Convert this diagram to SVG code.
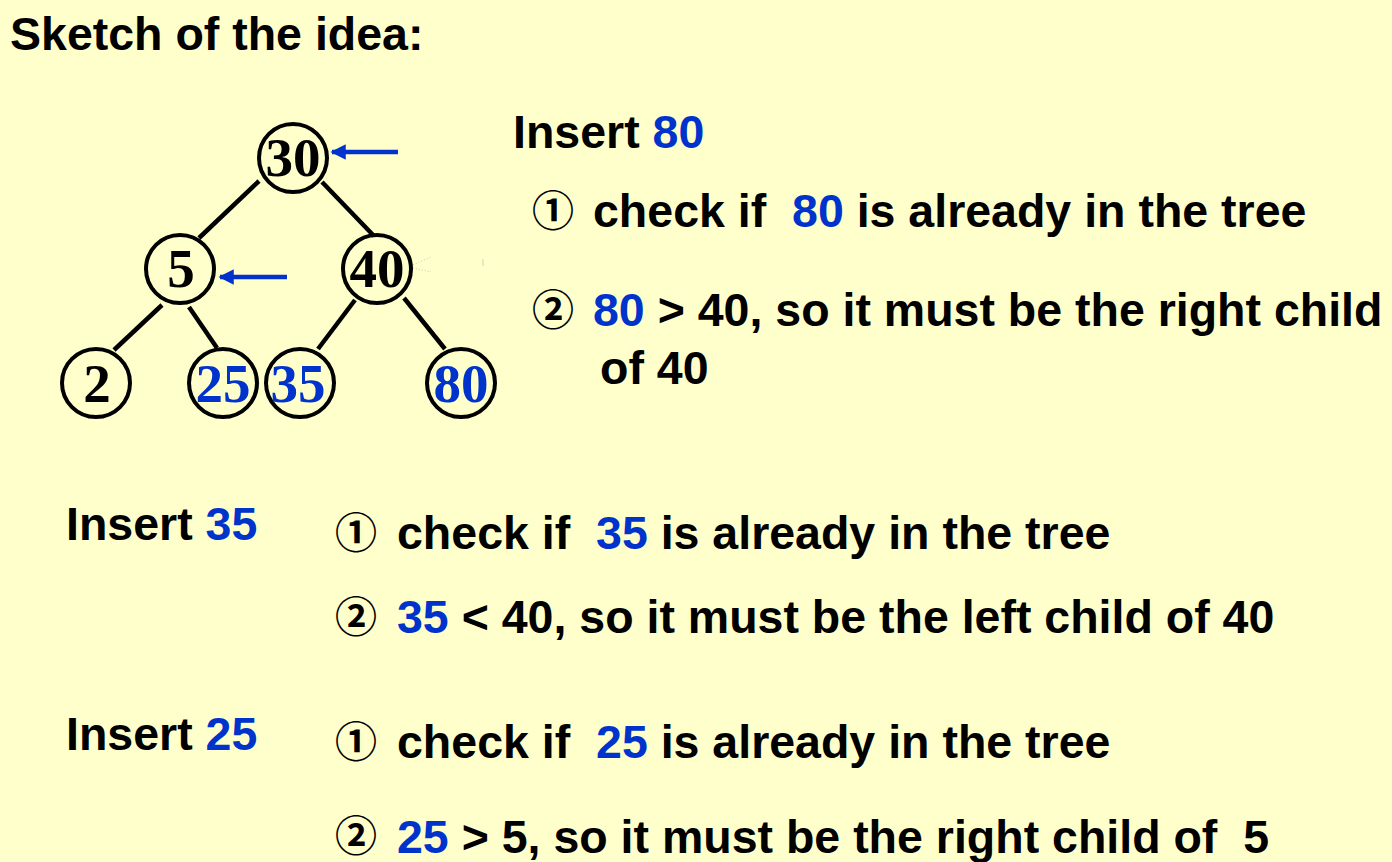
<svg xmlns="http://www.w3.org/2000/svg" width="1392" height="862" viewBox="0 0 1392 862">
<style>
.t{font-family:"Liberation Sans",Arial,sans-serif;font-weight:bold;font-size:46.5px;fill:#000;white-space:pre}
.b{fill:#0033CC}
.c{font-family:"Noto Sans CJK JP","Noto Sans CJK SC","DejaVu Sans",sans-serif;font-weight:bold;font-size:42px;fill:#000}
.n{font-family:"Liberation Serif","Times New Roman",serif;font-weight:bold;font-size:55px;text-anchor:middle;fill:#000}
.nb{fill:#0033CC}
.node circle{fill:none;stroke:#000;stroke-width:4}
.edge{stroke:#000;stroke-width:4.5;fill:none}
.arr{stroke:#0033CC;stroke-width:4.5;fill:none}
</style>
<defs>
<marker id="ah" viewBox="0 0 10 10" refX="9" refY="5" markerWidth="4.2" markerHeight="3.4" markerUnits="strokeWidth" orient="auto">
<path d="M0,0 L10,5 L0,10 z" fill="#0033CC"/>
</marker>
</defs>
<rect width="1392" height="862" fill="#FFFFCC"/>

<g id="connectors">
<line class="edge" x1="259" y1="181" x2="199" y2="238"/>
<line class="edge" x1="322" y1="182" x2="374" y2="236"/>
<line class="edge" x1="162" y1="305" x2="114" y2="350"/>
<line class="edge" x1="189" y1="307" x2="217" y2="348"/>
<line class="edge" x1="355" y1="300" x2="318" y2="349"/>
<line class="edge" x1="404" y1="298" x2="445" y2="349"/>
<line class="arr" x1="398" y1="152" x2="332" y2="152" marker-end="url(#ah)"/>
<line class="arr" x1="287" y1="277" x2="220" y2="277" marker-end="url(#ah)"/>
<line x1="413" y1="265" x2="431" y2="257" stroke="#c8c8b0" stroke-width="1" stroke-dasharray="1,2"/>
<line x1="413" y1="268" x2="431" y2="272" stroke="#c8c8b0" stroke-width="1" stroke-dasharray="1,2"/>
<line x1="483" y1="259" x2="483" y2="266" stroke="#d0d0b8" stroke-width="1"/>
</g>

<g id="node-30" class="node"><circle cx="293" cy="158" r="34"/><text class="n" x="293" y="176">30</text></g>
<g id="node-5" class="node"><circle cx="180" cy="269" r="34"/><text class="n" x="181" y="287">5</text></g>
<g id="node-40" class="node"><circle cx="377" cy="269" r="34"/><text class="n" x="377" y="287">40</text></g>
<g id="node-2" class="node"><circle cx="96" cy="383" r="34"/><text class="n" x="97" y="402">2</text></g>
<g id="node-25" class="node"><circle cx="223" cy="383" r="34"/><text class="n nb" x="223" y="402">25</text></g>
<g id="node-35" class="node"><circle cx="300" cy="383" r="34"/><text class="n nb" x="298" y="402">35</text></g>
<g id="node-80" class="node"><circle cx="461" cy="383" r="34"/><text class="n nb" x="461" y="402">80</text></g>

<g id="text">
<text class="t" x="10" y="50">Sketch of the idea:</text>

<text class="t" x="513" y="148">Insert <tspan class="b">80</tspan></text>
<text class="c" x="532" y="226">①</text>
<text class="t" x="593" y="227">check if  <tspan class="b">80</tspan> is already in the tree</text>
<text class="c" x="532" y="325">②</text>
<text class="t" x="593" y="326"><tspan class="b">80</tspan> &gt; 40, so it must be the right child</text>
<text class="t" x="600" y="384">of 40</text>

<text class="t" x="66" y="540">Insert <tspan class="b">35</tspan></text>
<text class="c" x="335" y="548">①</text>
<text class="t" x="397" y="549">check if  <tspan class="b">35</tspan> is already in the tree</text>
<text class="c" x="335" y="632">②</text>
<text class="t" x="397" y="633"><tspan class="b">35</tspan> &lt; 40, so it must be the left child of 40</text>

<text class="t" x="66" y="750">Insert <tspan class="b">25</tspan></text>
<text class="c" x="335" y="757">①</text>
<text class="t" x="397" y="758">check if  <tspan class="b">25</tspan> is already in the tree</text>
<text class="c" x="335" y="851">②</text>
<text class="t" x="397" y="853"><tspan class="b">25</tspan> &gt; 5, so it must be the right child of  5</text>
</g>
</svg>
